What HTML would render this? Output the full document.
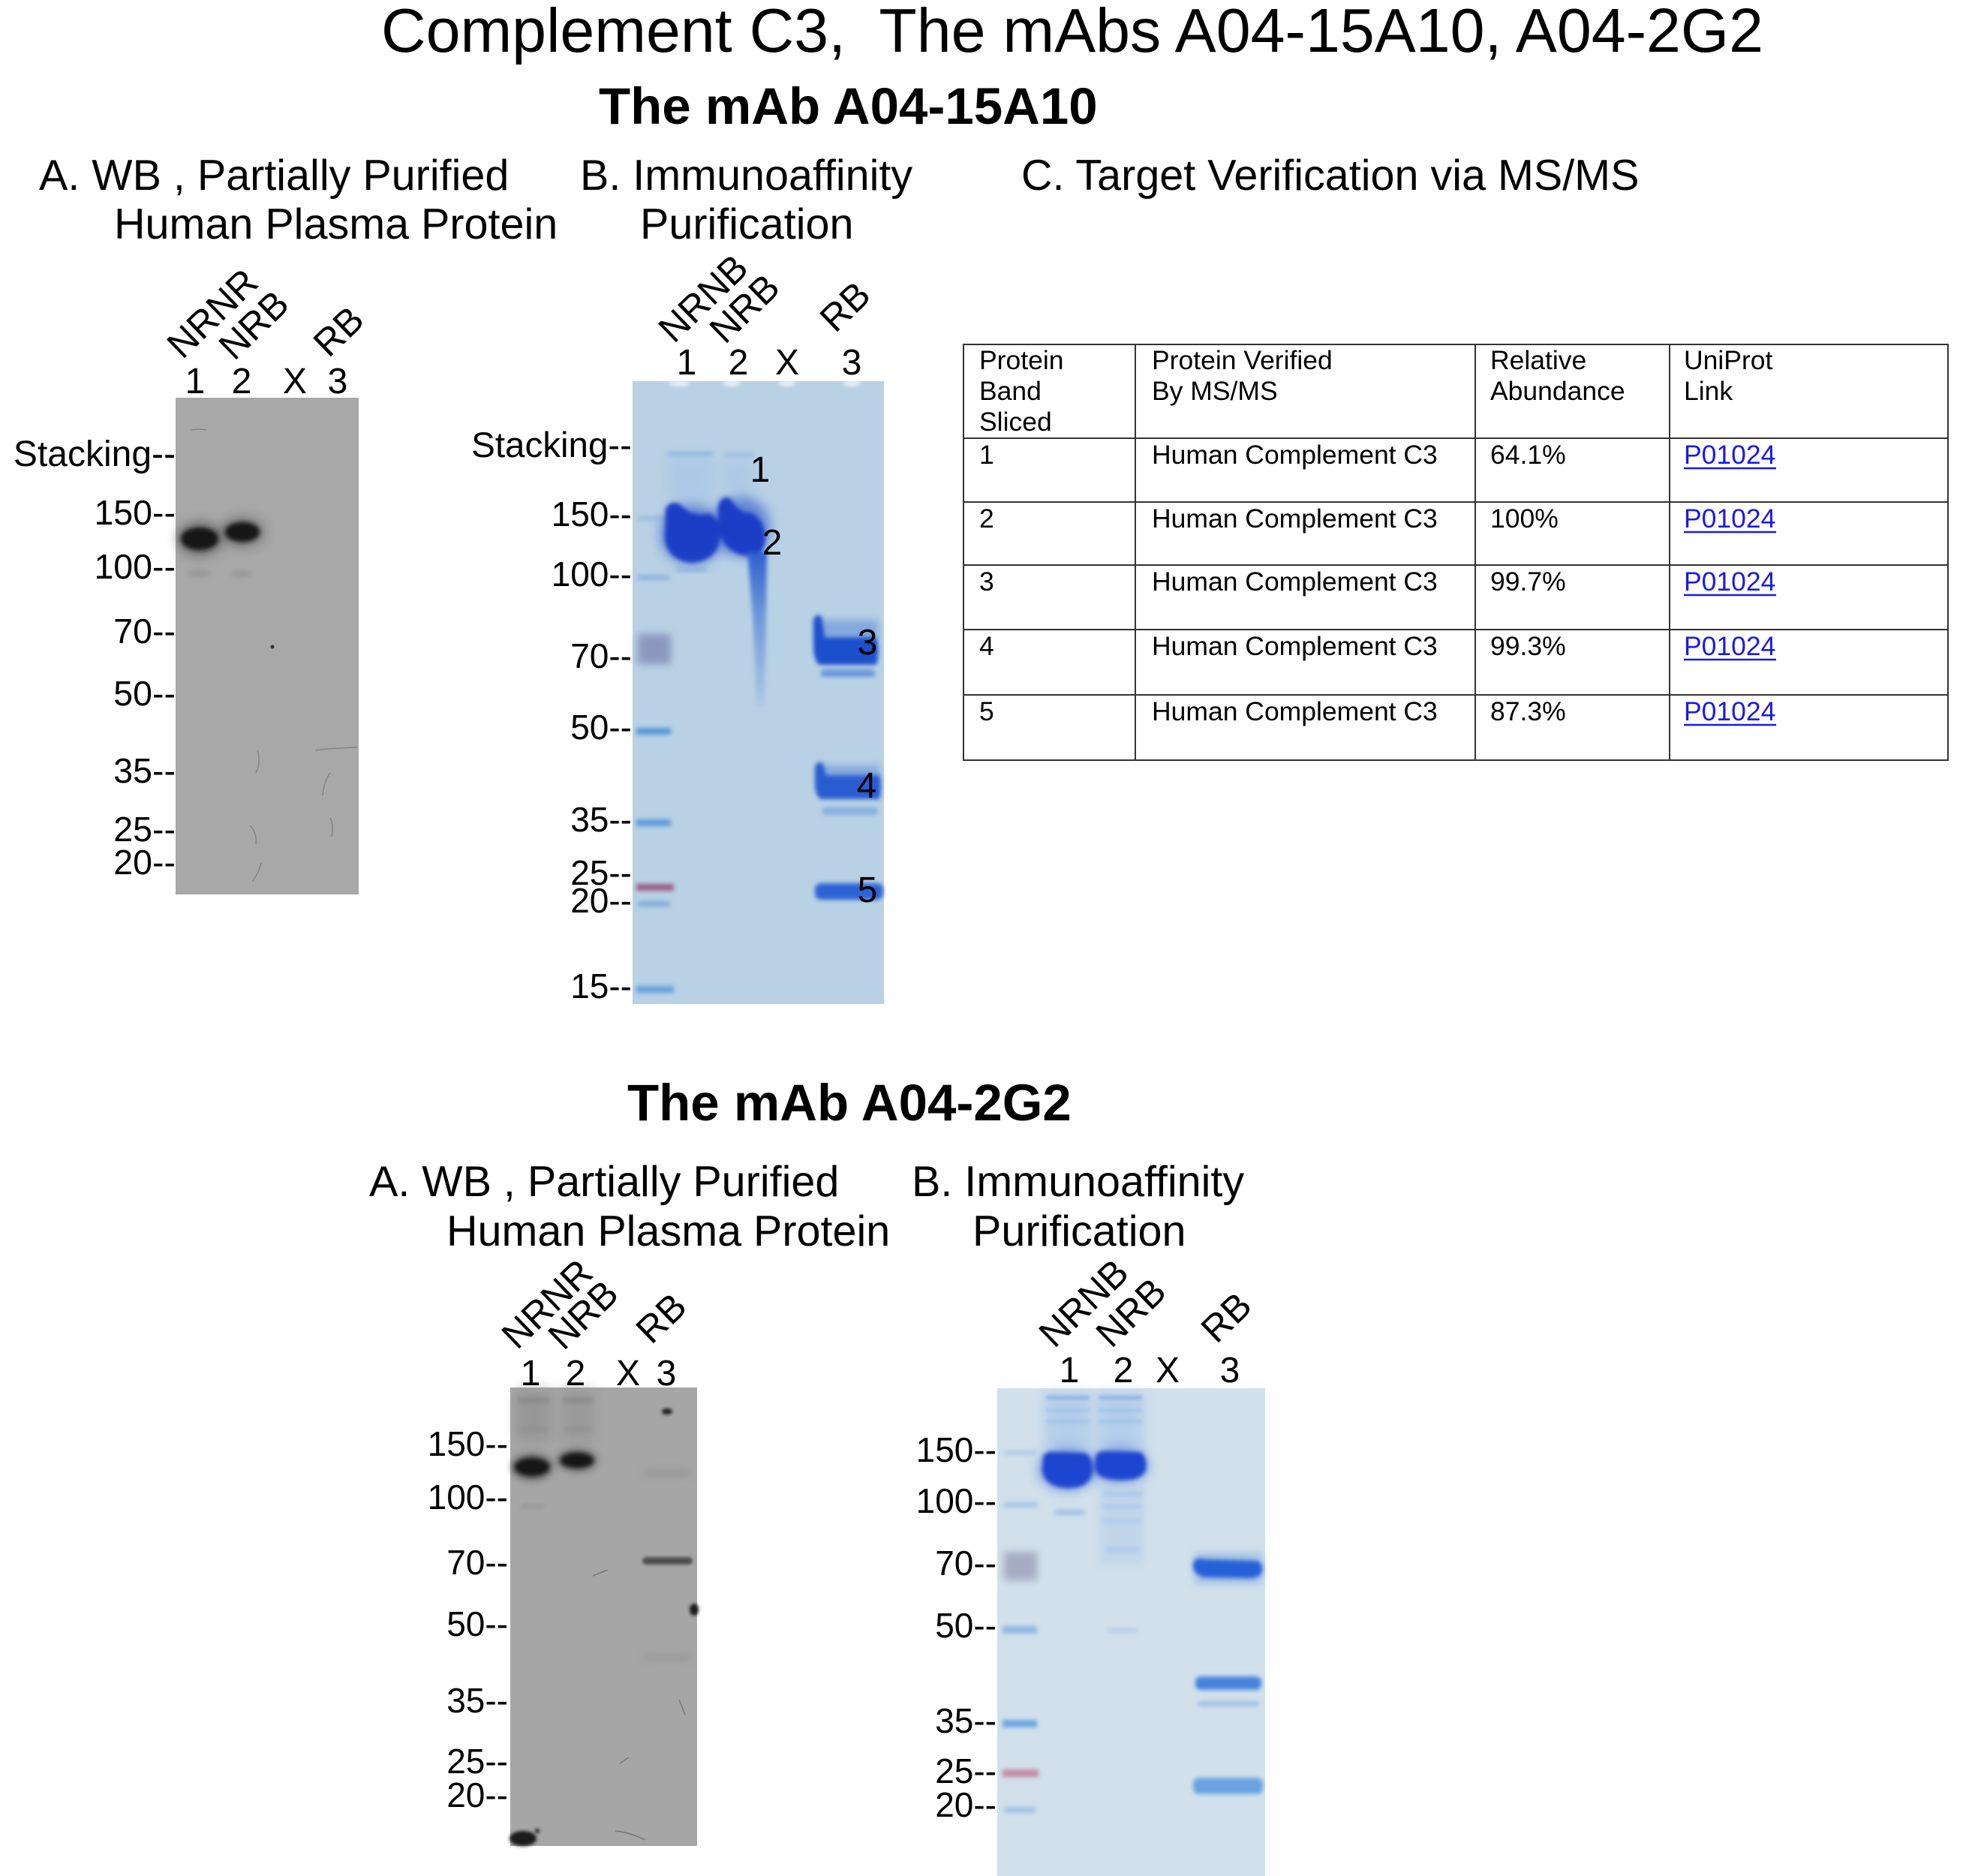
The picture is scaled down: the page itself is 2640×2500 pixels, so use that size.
<!DOCTYPE html>
<html><head><meta charset="utf-8"><style>html,body{margin:0;padding:0;background:#fff}svg{display:block}</style></head>
<body>
<svg width="2640" height="2500" viewBox="0 0 2640 2500" xmlns="http://www.w3.org/2000/svg" font-family="'Liberation Sans', Arial, sans-serif">
<defs>
<filter id="b2" x="-50%" y="-50%" width="200%" height="200%"><feGaussianBlur stdDeviation="2"/></filter>
<filter id="b3" x="-50%" y="-50%" width="200%" height="200%"><feGaussianBlur stdDeviation="3"/></filter>
<filter id="b5" x="-50%" y="-50%" width="200%" height="200%"><feGaussianBlur stdDeviation="5"/></filter>
<filter id="b8" x="-50%" y="-50%" width="200%" height="200%"><feGaussianBlur stdDeviation="8"/></filter>
<linearGradient id="smear" x1="0" y1="0" x2="0" y2="1"><stop offset="0" stop-color="#2f5fcf"/><stop offset="0.4" stop-color="#6d97d9"/><stop offset="1" stop-color="#b0c9e4"/></linearGradient>
</defs>
<rect width="2640" height="2500" fill="#fff"/>

<!-- Titles -->
<text x="508" y="69" font-size="82.5">Complement C3,&#160; The mAbs A04-15A10, A04-2G2</text>
<text x="798" y="165" font-size="69" font-weight="bold">The mAb A04-15A10</text>
<text x="52" y="253" font-size="57.5">A. WB , Partially Purified</text>
<text x="152" y="318" font-size="57.5">Human Plasma Protein</text>
<text x="773" y="253" font-size="57.5">B. Immunoaffinity</text>
<text x="853" y="318" font-size="57.5">Purification</text>
<text x="1361" y="253" font-size="57.5">C. Target Verification via MS/MS</text>

<!-- ============ TOP WB ============ -->
<rect x="234" y="530" width="244" height="662" fill="#a8a8a8"/>
<g filter="url(#b8)" opacity="0.55"><ellipse cx="266" cy="718" rx="30" ry="22" fill="#333"/><ellipse cx="323" cy="709" rx="28" ry="18" fill="#333"/></g>
<g filter="url(#b3)"><ellipse cx="266" cy="718" rx="25" ry="15" fill="#151515"/><ellipse cx="323" cy="709" rx="23" ry="13" fill="#151515"/></g>
<g filter="url(#b3)" opacity="0.45"><ellipse cx="265" cy="764" rx="16" ry="5" fill="#888"/><ellipse cx="322" cy="765" rx="14" ry="5" fill="#888"/></g>
<g fill="none" stroke="#7a7a7a" stroke-width="1.5" opacity="0.8">
<path d="M255 573 q10 -2 20 0"/><path d="M343 1000 q5 15 -2 30"/><path d="M420 1000 q20 -3 56 -4"/><path d="M440 1030 q-8 10 -10 30"/><path d="M440 1090 q5 10 2 25"/><path d="M333 1100 q10 10 8 25"/><path d="M348 1150 q-4 15 -12 25"/>
</g>
<circle cx="363" cy="862" r="2.5" fill="#333"/>
<g font-size="46.5" text-anchor="end">
<text x="234" y="621" font-size="48">Stacking--</text>
<text x="234" y="699">150--</text>
<text x="234" y="771">100--</text>
<text x="234" y="857">70--</text>
<text x="234" y="940">50--</text>
<text x="234" y="1043">35--</text>
<text x="234" y="1121">25--</text>
<text x="234" y="1165">20--</text>
</g>
<g font-size="48" text-anchor="middle">
<text x="260" y="524">1</text><text x="322" y="524">2</text><text x="393" y="524">X</text><text x="450" y="524">3</text>
</g>
<g font-size="50">
<text transform="translate(243,480) rotate(-44)">NRNR</text>
<text transform="translate(312,482) rotate(-44)">NRB</text>
<text transform="translate(438,478) rotate(-44)">RB</text>
</g>

<!-- ============ TOP GEL B ============ -->
<rect x="843" y="508" width="335" height="830" fill="#b8d1e4"/>
<g filter="url(#b2)" fill="#eef4f8" opacity="0.8"><ellipse cx="905" cy="511" rx="14" ry="4"/><ellipse cx="975" cy="511" rx="12" ry="4"/><ellipse cx="1049" cy="511" rx="12" ry="4"/><ellipse cx="1135" cy="511" rx="12" ry="4"/></g>
<g filter="url(#b3)">
<rect x="850" y="688" width="40" height="6" fill="#9dbde0"/>
<rect x="850" y="766" width="42" height="7" fill="#8fb4df"/>
<rect x="848" y="970" width="46" height="9" fill="#5896d8"/>
<rect x="848" y="1092" width="46" height="9" fill="#5b9adb"/>
<rect x="848" y="1178" width="50" height="9" fill="#9a5f85"/>
<rect x="850" y="1201" width="42" height="7" fill="#7eaad8"/>
<rect x="848" y="1314" width="50" height="9" fill="#64a0dd"/>
</g>
<g filter="url(#b5)"><rect x="850" y="845" width="44" height="40" fill="#8c97bf"/></g>
<g filter="url(#b3)" opacity="0.7"><rect x="890" y="602" width="60" height="6" fill="#7fa8de"/><rect x="965" y="604" width="40" height="5" fill="#8fb1e0"/></g>
<g filter="url(#b8)" opacity="0.6"><rect x="890" y="610" width="60" height="55" fill="#a5c3e6"/><rect x="962" y="612" width="42" height="45" fill="#a9c5e6"/></g>
<g filter="url(#b8)" opacity="0.7"><ellipse cx="922" cy="712" rx="42" ry="40" fill="#3d64d0"/><ellipse cx="988" cy="702" rx="38" ry="40" fill="#3d64d0"/></g>
<g filter="url(#b3)">
<path d="M887 678 Q893 666 906 672 Q922 690 944 684 Q960 690 960 714 Q958 746 922 750 Q888 746 886 716 Z" fill="#1b3cc6"/>
<path d="M957 676 Q960 659 973 664 Q985 684 1000 683 Q1018 690 1020 716 Q1020 742 996 741 Q962 736 957 702 Z" fill="#1b3cc6"/>
<path d="M996 736 L1022 736 L1021 820 L1019 942 L1008 942 L1003 820 Z" fill="url(#smear)"/>
</g>
<g filter="url(#b3)" opacity="0.6"><rect x="902" y="756" width="40" height="6" fill="#7ea4de"/></g>
<g filter="url(#b5)" opacity="0.7"><rect x="1090" y="826" width="80" height="26" fill="#6d98dc"/><rect x="1092" y="1020" width="80" height="20" fill="#6d98dc"/></g>
<g filter="url(#b3)">
<path d="M1084 826 Q1088 816 1095 822 L1099 849 L1168 849 Q1173 868 1168 886 L1092 886 Q1084 880 1084 860 Z" fill="#1f4fcc"/>
<rect x="1094" y="892" width="72" height="10" rx="4" fill="#6898dd"/>
<path d="M1086 1022 Q1090 1012 1097 1018 L1101 1033 L1172 1033 Q1176 1048 1172 1065 L1094 1065 Q1086 1060 1086 1045 Z" fill="#2a5cd1"/>
<rect x="1096" y="1076" width="74" height="10" rx="4" fill="#86aee0"/>
<rect x="1086" y="1177" width="91" height="22" rx="8" fill="#2f64d5"/>
</g>
<g font-size="46" text-anchor="end">
<text x="842" y="609" font-size="47.5">Stacking--</text>
<text x="842" y="701">150--</text>
<text x="842" y="781">100--</text>
<text x="842" y="890">70--</text>
<text x="842" y="985">50--</text>
<text x="842" y="1108">35--</text>
<text x="842" y="1179">25--</text>
<text x="842" y="1216">20--</text>
<text x="842" y="1330">15--</text>
</g>
<g font-size="48" text-anchor="middle">
<text x="915" y="499">1</text><text x="984" y="499">2</text><text x="1049" y="499">X</text><text x="1135" y="499">3</text>
<text x="1013" y="642">1</text><text x="1029" y="739">2</text><text x="1156" y="872">3</text><text x="1155" y="1063">4</text><text x="1156" y="1202">5</text>
</g>
<g font-size="50">
<text transform="translate(898,459) rotate(-44)">NRNB</text>
<text transform="translate(966,460) rotate(-44)">NRB</text>
<text transform="translate(1113,445) rotate(-44)">RB</text>
</g>

<!-- ============ TABLE ============ -->
<g stroke="#333" stroke-width="2" fill="none">
<rect x="1284" y="459" width="1312" height="554"/>
<line x1="1513" y1="459" x2="1513" y2="1013"/>
<line x1="1966" y1="459" x2="1966" y2="1013"/>
<line x1="2225" y1="459" x2="2225" y2="1013"/>
<line x1="1284" y1="584" x2="2596" y2="584"/>
<line x1="1284" y1="669" x2="2596" y2="669"/>
<line x1="1284" y1="753" x2="2596" y2="753"/>
<line x1="1284" y1="839" x2="2596" y2="839"/>
<line x1="1284" y1="926" x2="2596" y2="926"/>
</g>
<g font-size="35.5" fill="#000">
<text x="1305" y="492">Protein</text><text x="1305" y="533">Band</text><text x="1305" y="574">Sliced</text>
<text x="1535" y="492">Protein Verified</text><text x="1535" y="533">By MS/MS</text>
<text x="1986" y="492">Relative</text><text x="1986" y="533">Abundance</text>
<text x="2244" y="492">UniProt</text><text x="2244" y="533">Link</text>
<text x="1305" y="618">1</text><text x="1535" y="618">Human Complement C3</text><text x="1986" y="618">64.1%</text>
<text x="1305" y="703">2</text><text x="1535" y="703">Human Complement C3</text><text x="1986" y="703">100%</text>
<text x="1305" y="787">3</text><text x="1535" y="787">Human Complement C3</text><text x="1986" y="787">99.7%</text>
<text x="1305" y="873">4</text><text x="1535" y="873">Human Complement C3</text><text x="1986" y="873">99.3%</text>
<text x="1305" y="960">5</text><text x="1535" y="960">Human Complement C3</text><text x="1986" y="960">87.3%</text>
</g>
<g font-size="35.5" fill="#1a1ae6">
<text x="2244" y="618">P01024</text><text x="2244" y="703">P01024</text><text x="2244" y="787">P01024</text><text x="2244" y="873">P01024</text><text x="2244" y="960">P01024</text>
</g>
<g stroke="#1a1ae6" stroke-width="2.5">
<line x1="2244" y1="624" x2="2367" y2="624"/><line x1="2244" y1="709" x2="2367" y2="709"/><line x1="2244" y1="793" x2="2367" y2="793"/><line x1="2244" y1="879" x2="2367" y2="879"/><line x1="2244" y1="966" x2="2367" y2="966"/>
</g>

<!-- ============ BOTTOM SECTION ============ -->
<text x="836" y="1493" font-size="69" font-weight="bold">The mAb A04-2G2</text>
<text x="492" y="1594" font-size="57.5">A. WB , Partially Purified</text>
<text x="595" y="1660" font-size="57.5">Human Plasma Protein</text>
<text x="1215" y="1594" font-size="57.5">B. Immunoaffinity</text>
<text x="1296" y="1660" font-size="57.5">Purification</text>

<!-- bottom WB -->
<rect x="680" y="1849" width="249" height="611" fill="#a6a6a6"/>
<g filter="url(#b8)" opacity="0.7"><rect x="688" y="1852" width="46" height="70" fill="#929292"/><rect x="748" y="1852" width="44" height="70" fill="#959595"/></g>
<g filter="url(#b3)" opacity="0.6"><rect x="690" y="1862" width="42" height="8" fill="#828282"/><rect x="750" y="1862" width="40" height="8" fill="#848484"/><rect x="692" y="1902" width="38" height="6" fill="#8c8c8c"/><rect x="752" y="1902" width="36" height="6" fill="#8c8c8c"/></g>
<g filter="url(#b5)" opacity="0.55"><ellipse cx="709" cy="1955" rx="28" ry="18" fill="#333"/><ellipse cx="769" cy="1946" rx="27" ry="15" fill="#333"/></g>
<g filter="url(#b3)"><ellipse cx="709" cy="1955" rx="23" ry="12" fill="#161616"/><ellipse cx="769" cy="1946" rx="22" ry="10" fill="#161616"/></g>
<g filter="url(#b3)" opacity="0.5"><rect x="695" y="2004" width="30" height="6" fill="#888"/></g>
<g filter="url(#b2)"><rect x="856" y="2075" width="67" height="10" rx="5" fill="#4e4e4e"/></g>
<g filter="url(#b5)" opacity="0.5"><rect x="858" y="1958" width="62" height="10" fill="#8a8a8a"/><rect x="858" y="2204" width="62" height="9" fill="#8a8a8a"/></g>
<g filter="url(#b2)" fill="#1a1a1a"><ellipse cx="889" cy="1881" rx="7" ry="4"/><ellipse cx="925" cy="2145" rx="6" ry="8"/><ellipse cx="697" cy="2450" rx="18" ry="10"/><circle cx="716" cy="2440" r="3"/></g>
<g fill="none" stroke="#777" stroke-width="1.5"><path d="M790 2100 q10 -4 20 -8"/><path d="M826 2350 q8 -6 12 -8"/><path d="M820 2440 q20 2 40 12"/><path d="M905 2265 q4 10 8 20"/></g>
<g font-size="46" text-anchor="end">
<text x="677" y="1940">150--</text>
<text x="677" y="2011">100--</text>
<text x="677" y="2098">70--</text>
<text x="677" y="2180">50--</text>
<text x="677" y="2282">35--</text>
<text x="677" y="2363">25--</text>
<text x="677" y="2408">20--</text>
</g>
<g font-size="48" text-anchor="middle">
<text x="707" y="1846">1</text><text x="767" y="1846">2</text><text x="837" y="1846">X</text><text x="888" y="1846">3</text>
</g>
<g font-size="50">
<text transform="translate(689,1800) rotate(-44)">NRNR</text>
<text transform="translate(751,1801) rotate(-44)">NRB</text>
<text transform="translate(868,1793) rotate(-44)">RB</text>
</g>

<!-- bottom gel B -->
<rect x="1329" y="1850" width="357" height="650" fill="#d1e0eb"/>
<g filter="url(#b3)">
<rect x="1338" y="1933" width="42" height="6" fill="#b0cbe6"/>
<rect x="1338" y="2002" width="44" height="7" fill="#a5c4e6"/>
<rect x="1336" y="2167" width="46" height="10" fill="#8fb6e2"/>
<rect x="1336" y="2292" width="46" height="10" fill="#6aa6df"/>
<rect x="1336" y="2358" width="48" height="10" fill="#c48aa2"/>
<rect x="1338" y="2408" width="42" height="8" fill="#a2c2e4"/>
</g>
<g filter="url(#b5)"><rect x="1338" y="2068" width="44" height="38" fill="#a6abc2"/></g>
<g filter="url(#b8)" opacity="0.7"><rect x="1392" y="1856" width="62" height="78" fill="#a9c6ea"/><rect x="1462" y="1856" width="62" height="78" fill="#a9c6ea"/></g>
<g filter="url(#b2)" opacity="0.8">
<rect x="1394" y="1860" width="58" height="5" fill="#83ade6"/><rect x="1394" y="1877" width="58" height="4" fill="#9dbfe9"/><rect x="1394" y="1892" width="58" height="4" fill="#9dbfe9"/>
<rect x="1464" y="1860" width="58" height="5" fill="#83ade6"/><rect x="1464" y="1877" width="58" height="4" fill="#9dbfe9"/><rect x="1464" y="1892" width="58" height="4" fill="#9dbfe9"/>
</g>
<g filter="url(#b8)" opacity="0.6"><ellipse cx="1422" cy="1958" rx="38" ry="28" fill="#3d66d6"/><ellipse cx="1492" cy="1953" rx="38" ry="24" fill="#3d66d6"/></g>
<g filter="url(#b3)">
<path d="M1390 1942 Q1392 1934 1405 1935 L1445 1936 Q1458 1942 1456 1962 Q1452 1984 1420 1983 Q1392 1980 1389 1960 Z" fill="#1d44d0"/>
<path d="M1460 1942 Q1462 1933 1475 1934 L1520 1935 Q1529 1942 1527 1958 Q1522 1974 1492 1973 Q1462 1972 1459 1956 Z" fill="#1d44d0"/>
</g>
<g filter="url(#b3)" opacity="0.7">
<rect x="1405" y="2012" width="40" height="7" fill="#8fb4e6"/>
<rect x="1470" y="1988" width="52" height="6" fill="#8fb4e6"/><rect x="1470" y="2005" width="52" height="6" fill="#98bae6"/><rect x="1470" y="2024" width="50" height="6" fill="#9fbfe6"/><rect x="1474" y="2062" width="44" height="6" fill="#98bae6"/><rect x="1476" y="2170" width="40" height="6" fill="#aac6e6"/>
</g>
<g filter="url(#b5)" opacity="0.5"><rect x="1465" y="1975" width="60" height="110" fill="#b4cdea"/></g>
<g filter="url(#b5)" opacity="0.6"><rect x="1592" y="2070" width="90" height="40" fill="#7ea7e0"/></g>
<g filter="url(#b3)">
<path d="M1590 2084 Q1592 2074 1605 2078 L1675 2080 Q1684 2084 1682 2094 Q1680 2104 1660 2103 L1605 2102 Q1592 2098 1590 2090 Z" fill="#2660d8"/>
<rect x="1593" y="2234" width="88" height="18" rx="7" fill="#4684dd"/>
<rect x="1596" y="2267" width="82" height="7" rx="3" fill="#9fc0e6"/>
<rect x="1590" y="2369" width="93" height="22" rx="8" fill="#6aa3e2"/>
</g>
<g font-size="46" text-anchor="end">
<text x="1328" y="1948">150--</text>
<text x="1328" y="2016">100--</text>
<text x="1328" y="2099">70--</text>
<text x="1328" y="2182">50--</text>
<text x="1328" y="2309">35--</text>
<text x="1328" y="2376">25--</text>
<text x="1328" y="2421">20--</text>
</g>
<g font-size="48" text-anchor="middle">
<text x="1425" y="1842">1</text><text x="1497" y="1842">2</text><text x="1556" y="1842">X</text><text x="1639" y="1842">3</text>
</g>
<g font-size="50">
<text transform="translate(1405,1798) rotate(-44)">NRNB</text>
<text transform="translate(1481,1798) rotate(-44)">NRB</text>
<text transform="translate(1621,1792) rotate(-44)">RB</text>
</g>
</svg>
</body></html>
